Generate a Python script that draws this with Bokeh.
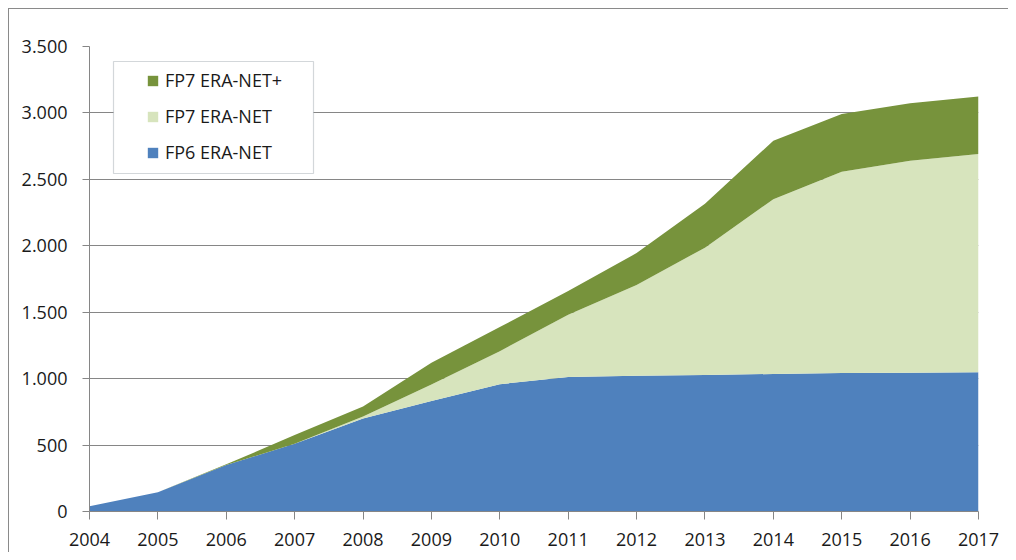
from bokeh.plotting import figure
from bokeh.models import (ColumnDataSource, FixedTicker, Legend, LegendItem,
                          BoxAnnotation, Range1d)
from bokeh.embed import file_html
from bokeh.resources import INLINE

# ---- data ----
years = [2004, 2005, 2006, 2007, 2008, 2009, 2010, 2011, 2012, 2013, 2014, 2015, 2016, 2017]
fp6_eranet = [40, 145, 350, 510, 700, 832, 958, 1012, 1022, 1028, 1035, 1042, 1045, 1048]
fp7_eranet = [0, 0, 0, 0, 15, 124, 249, 468, 683, 958, 1316, 1515, 1595, 1642]
fp7_eranet_plus = [0, 0, 5, 65, 75, 163, 181, 180, 240, 330, 440, 435, 433, 433]
series_names = ["FP6 ERA-NET", "FP7 ERA-NET", "FP7 ERA-NET+"]
series_colors = ["#4F81BD", "#D7E4BD", "#77933C"]
y_ticks = [0, 500, 1000, 1500, 2000, 2500, 3000, 3500]
y_tick_labels = ["0", "500", "1.000", "1.500", "2.000", "2.500", "3.000", "3.500"]

source = ColumnDataSource(dict(
    year=years,
    fp6=fp6_eranet,
    fp7=fp7_eranet,
    fp7p=fp7_eranet_plus,
))

FONT = "Open Sans"

p = figure(width=1000, height=544, output_backend="svg", toolbar_location=None,
           x_range=Range1d(years[0], years[-1]), y_range=Range1d(0, 3500),
           min_border_left=80, min_border_right=31, min_border_top=37,
           min_border_bottom=42)
p.styles = {"border-left": "1px solid #8a8a8a", "border-top": "1px solid #8a8a8a",
            "margin-left": "8px", "margin-top": "8px"}
p.outline_line_color = None
p.background_fill_color = "white"
p.border_fill_color = "white"

renderers = p.varea_stack(["fp6", "fp7", "fp7p"], x="year", source=source,
                          color=series_colors)

# axes
p.xaxis.ticker = FixedTicker(ticks=years)
p.yaxis.ticker = FixedTicker(ticks=y_ticks)
p.yaxis.major_label_overrides = {t: l for t, l in zip(y_ticks, y_tick_labels)}
for ax in (p.xaxis[0], p.yaxis[0]):
    ax.axis_line_color = "#868686"
    ax.major_tick_line_color = "#868686"
    ax.minor_tick_line_color = None
    ax.major_tick_in = 0
    ax.major_label_text_font = FONT
    ax.major_label_text_font_size = "18px"
    ax.major_label_text_color = "#1a1a1a"
p.yaxis.major_tick_out = 7
p.yaxis.major_label_standoff = 15
p.xaxis.major_tick_out = 8
p.xaxis.major_label_standoff = 13

p.xgrid.grid_line_color = None
p.ygrid.grid_line_color = "#868686"
p.ygrid.grid_line_width = 1

# legend frame
box = BoxAnnotation(left=24, right=224, top=450, bottom=338,
                    left_units="screen", right_units="screen",
                    top_units="screen", bottom_units="screen",
                    fill_color="white", fill_alpha=1.0,
                    line_color="#6e7986", line_width=1.2)
p.add_layout(box)

items = [LegendItem(label=series_names[i], renderers=[renderers[i]]) for i in (2, 1, 0)]
legend = Legend(items=items, location=(57, 347),
                padding=10, spacing=12, label_standoff=6,
                glyph_width=13, glyph_height=13,
                label_text_font=FONT, label_text_font_size="18px",
                label_text_color="#1a1a1a",
                border_line_color=None, background_fill_alpha=0.0)
p.add_layout(legend)

open("out.html", "w").write(file_html(p, INLINE))
